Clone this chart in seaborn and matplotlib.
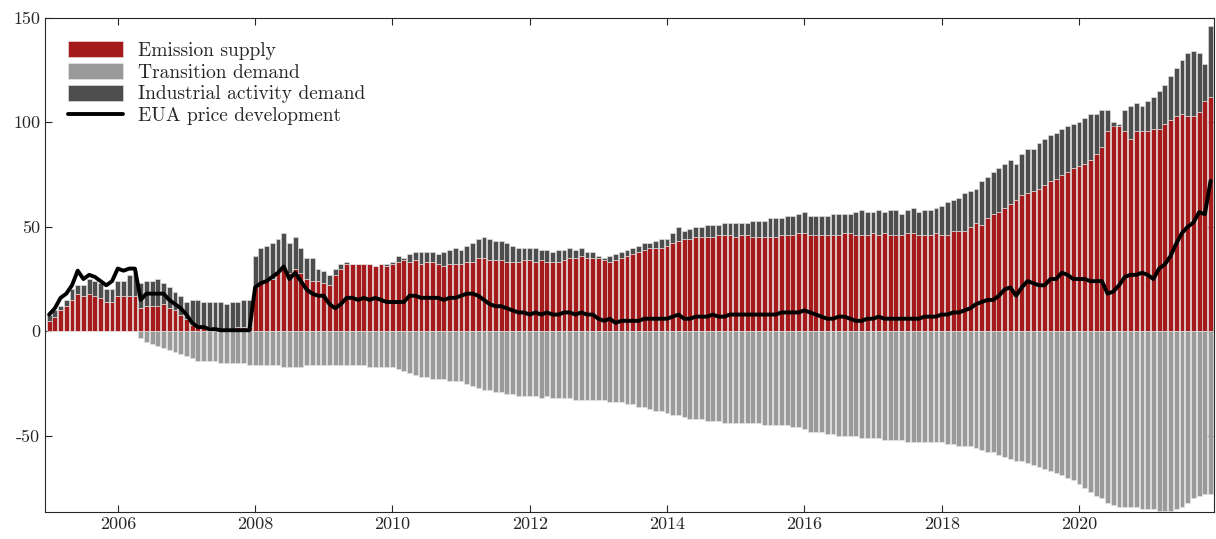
import numpy as np
import matplotlib
matplotlib.use("Agg")
import matplotlib.pyplot as plt
import seaborn as sns

# monthly values, Jan 2005 - Dec 2021
supply = [
    5, 7, 10, 12, 15, 18, 17, 18, 17, 16, 14, 14,
    17, 17, 17, 17, 11, 12, 12, 12, 13, 11, 10, 8,
    6, 3, 2, 2, 2, 1, 1, 1, 1, 2, 2, 2,
    21, 23, 24, 25, 28, 30, 28, 30, 28, 25, 24, 24,
    23, 22, 27, 30, 32, 32, 32, 32, 32, 31, 32, 31,
    32, 33, 34, 33, 34, 32, 33, 33, 32, 31, 32, 32,
    32, 33, 33, 35, 35, 34, 34, 34, 33, 33, 33, 34,
    34, 33, 34, 33, 33, 33, 34, 35, 35, 36, 35, 35,
    35, 34, 33, 34, 35, 36, 37, 38, 39, 40, 40, 40,
    41, 42, 43, 44, 44, 45, 45, 45, 45, 46, 46, 46,
    45, 46, 46, 45, 45, 45, 45, 45, 46, 46, 46, 47,
    47, 46, 46, 46, 46, 46, 46, 47, 47, 46, 46, 46,
    47, 46, 47, 46, 46, 46, 47, 47, 46, 46, 46, 47,
    46, 46, 48, 48, 48, 50, 52, 51, 54, 56, 57, 59,
    61, 63, 65, 66, 67, 68, 70, 72, 73, 75, 76, 78,
    79, 80, 82, 85, 88, 96, 100, 98, 96, 92, 96, 96,
    96, 97, 97, 99, 101, 103, 104, 103, 103, 105, 110, 112,
]
total_pos = [
    8, 10, 12, 15, 20, 22, 22, 25, 24, 23, 20, 20,
    24, 24, 27, 29, 23, 24, 24, 25, 23, 21, 19, 17,
    14, 15, 15, 14, 14, 14, 14, 13, 14, 14, 15, 15,
    36, 40, 41, 42, 44, 47, 42, 45, 40, 35, 35, 30,
    29, 27, 30, 32, 33, 32, 32, 32, 32, 31, 32, 32,
    33, 36, 35, 37, 38, 38, 38, 38, 37, 38, 39, 40,
    39, 41, 42, 44, 45, 44, 43, 43, 42, 41, 40, 40,
    40, 40, 39, 39, 38, 39, 39, 40, 39, 40, 38, 38,
    36, 35, 36, 37, 38, 39, 40, 41, 42, 42, 43, 44,
    44, 47, 50, 48, 49, 50, 50, 51, 51, 51, 52, 52,
    52, 52, 52, 53, 53, 53, 54, 54, 54, 55, 55, 56,
    57, 55, 55, 55, 55, 56, 56, 56, 56, 57, 58, 57,
    57, 58, 57, 58, 58, 56, 58, 59, 57, 58, 58, 59,
    60, 62, 63, 64, 66, 67, 68, 72, 74, 76, 78, 80,
    82, 80, 85, 87, 87, 90, 92, 94, 95, 97, 98, 99,
    100, 102, 104, 104, 106, 106, 98, 99, 106, 108, 109, 108,
    110, 112, 115, 118, 122, 126, 130, 133, 134, 133, 128, 146,
]
transition = [
    0, 0, 0, 0, 0, 0, 0, 0, 0, 0, 0, 0,
    0, 0, 0, 0, -3, -5, -6, -7, -8, -9, -10, -11,
    -12, -13, -14, -14, -14, -14, -15, -15, -15, -15, -15, -16,
    -16, -16, -16, -16, -16, -17, -17, -17, -17, -16, -16, -16,
    -16, -16, -16, -16, -16, -16, -16, -16, -17, -17, -17, -17,
    -17, -18, -19, -20, -21, -22, -22, -23, -23, -23, -24, -24,
    -24, -25, -26, -27, -28, -28, -29, -29, -30, -30, -31, -31,
    -31, -31, -32, -31, -32, -32, -32, -32, -33, -33, -33, -33,
    -33, -33, -34, -34, -34, -35, -35, -36, -36, -37, -38, -38,
    -39, -40, -40, -41, -42, -42, -42, -43, -43, -43, -44, -44,
    -44, -44, -44, -44, -44, -45, -45, -45, -45, -45, -46, -46,
    -47, -48, -48, -48, -49, -49, -50, -50, -50, -50, -51, -51,
    -51, -51, -52, -52, -52, -52, -53, -53, -53, -53, -53, -53,
    -53, -54, -54, -55, -55, -55, -56, -57, -58, -58, -59, -60,
    -61, -62, -62, -63, -64, -65, -66, -67, -68, -69, -70, -71,
    -73, -75, -77, -79, -80, -82, -83, -84, -84, -84, -84, -85,
    -85, -85, -86, -86, -86, -85, -84, -82, -80, -79, -78, -78,
]
price = [
    8, 11, 16, 18, 22, 29, 25, 27, 26, 24, 22, 24,
    30, 29, 30, 30, 15, 18, 18, 18, 18, 15, 13, 11,
    8, 4, 2, 2, 1, 1, 0.5, 0.5, 0.5, 0.5, 0.5, 0.5,
    21, 23, 24, 26, 28, 31, 25, 28, 24, 20, 18, 17,
    17, 13, 11, 13, 16, 16, 15, 16, 15, 16, 15, 14,
    14, 14, 14, 17, 17, 16, 16, 16, 16, 15, 16, 16,
    17, 18, 18, 17, 15, 13, 12, 12, 11, 10, 9, 9,
    8, 9, 8, 9, 8, 8, 9, 9, 8, 9, 8, 8,
    6, 5, 6, 4, 5, 5, 5, 5, 6, 6, 6, 6,
    6, 7, 8, 6, 6, 7, 7, 7, 8, 7, 7, 8,
    8, 8, 8, 8, 8, 8, 8, 8, 9, 9, 9, 9,
    10, 9, 8, 7, 6, 6, 7, 7, 6, 5, 5, 6,
    6, 7, 6, 6, 6, 6, 6, 6, 6, 7, 7, 7,
    8, 8, 9, 9, 10, 11, 13, 14, 15, 15, 17, 20,
    21, 17, 21, 24, 23, 22, 22, 25, 25, 28, 27, 25,
    25, 25, 24, 24, 24, 18, 19, 22, 26, 27, 27, 28,
    27, 25, 30, 32, 36, 42, 47, 50, 52, 57, 56, 72,
]

sns.set_style("ticks")
plt.rcParams["font.family"] = ["serif"]
plt.rcParams["font.serif"] = ["cmr10", "DejaVu Serif"]
plt.rcParams["axes.unicode_minus"] = False
plt.rcParams["axes.formatter.use_mathtext"] = False

supply = np.array(supply, float)
industrial = np.array(total_pos, float) - supply
transition = np.array(transition, float)
x = 2005 + np.arange(len(supply)) / 12.0

fig = plt.figure(figsize=(12.16, 5.39), dpi=100)
ax = fig.add_axes([0.037, 0.05, 0.961, 0.917])

w = 1 / 12 * 0.85
ec = dict(edgecolor="#e8e8e8", linewidth=0.4)
ax.bar(x, supply, width=w, color="#a51a1a", label="Emission supply", **ec)
ax.bar(x, transition, width=w, color="#9a9a9a", label="Transition demand", **ec)
ax.bar(x, industrial, bottom=supply, width=w, color="#4d4d4d",
       label="Industrial activity demand", **ec)
sns.lineplot(x=x, y=price, ax=ax, color="black", linewidth=2.8,
             label="EUA price development")

ax.set_xlim(2004.94, 2021.96)
ax.set_ylim(-86.5, 150)
ax.set_xticks(range(2006, 2022, 2))
ax.set_yticks([-50, 0, 50, 100, 150])
ax.tick_params(direction="in", top=True, right=True, labelsize=13, length=5)
for s in ax.spines.values():
    s.set_linewidth(0.8)

h, l = ax.get_legend_handles_labels()
order = [l.index(n) for n in ["Emission supply", "Transition demand",
                              "Industrial activity demand", "EUA price development"]]
ax.legend([h[i] for i in order], [l[i] for i in order], loc="upper left",
          frameon=False, fontsize=14, handlelength=2.8, handleheight=0.9,
          labelspacing=0.15, borderaxespad=0.8)

fig.savefig("out.png", dpi=100)
